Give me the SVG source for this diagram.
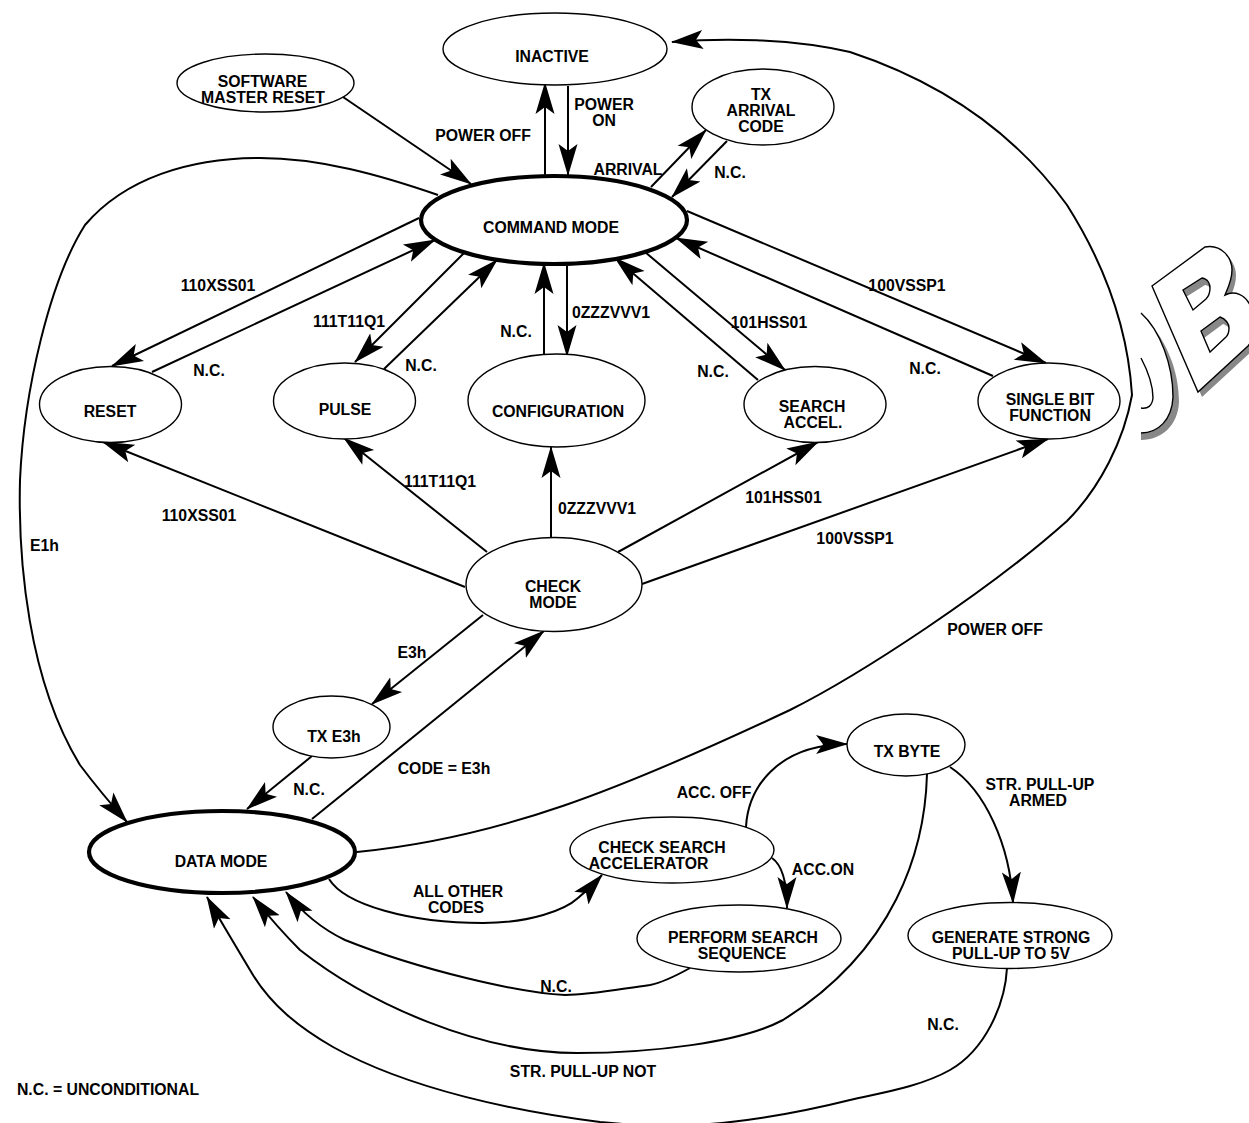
<svg xmlns="http://www.w3.org/2000/svg" width="1249" height="1123" viewBox="0 0 1249 1123">
<style>
text{font-family:"Liberation Sans",Arial,sans-serif;font-weight:bold;font-size:15.8px;fill:#000;text-anchor:middle}
.n{fill:#fff;stroke:#000;stroke-width:1.4}
.m{fill:#fff;stroke:#000;stroke-width:4.2}
#connectors path{fill:none;stroke:#000;stroke-width:2;marker-end:url(#a)}
.wm{fill:none;stroke:#000;stroke-width:1.4}
</style>
<defs>
<marker id="a" markerUnits="userSpaceOnUse" markerWidth="34" markerHeight="22" viewBox="0 0 34 22" refX="31" refY="11" orient="auto">
<path d="M32,11 L0,1.5 L7,11 L0,20.5 Z" fill="#000"/>
</marker>
<path id="bo" d="M1152,286 L1205,247 C1222,244 1232,258 1232,270 C1232,280 1228,288 1225,295 C1235,290 1245,295 1250,305 C1258,320 1255,338 1248,346 L1198,392 Z"/>
<path id="h1" d="M1183,290 L1202,278 C1208,279 1210,284 1210,288 C1210,294 1208,297 1206,299 L1193,310 Z"/>
<path id="h2" d="M1201,331 L1220,317 C1226,319 1229,324 1229,328 C1229,332 1228,335 1226,337 L1210,352 Z"/>
<clipPath id="c1"><use href="#h1"/></clipPath>
<clipPath id="c2"><use href="#h2"/></clipPath>
</defs>
<g id="watermark">
<use href="#bo" fill="#888" transform="translate(4,5)"/>
<use href="#bo" fill="#fff" stroke="#000" stroke-width="1.4"/>
<use href="#h1" fill="#888"/>
<g clip-path="url(#c1)"><use href="#h1" fill="#fff" transform="translate(3,7)"/></g>
<use href="#h1" class="wm"/>
<use href="#h2" fill="#888"/>
<g clip-path="url(#c2)"><use href="#h2" fill="#fff" transform="translate(3,7)"/></g>
<use href="#h2" class="wm"/>
<path d="M1141,313 C1160,330 1173,365 1173,397 C1172,420 1158,433 1141,433 L1141,440 C1162,440 1178,425 1179,402 C1179,370 1166,338 1141,313 Z" fill="#888"/>
<path class="wm" d="M1141,313 C1160,330 1173,365 1173,397 C1172,420 1158,433 1141,433"/>
<path class="wm" d="M1141,358 C1150,375 1153,388 1153,398 C1152,406 1148,409 1141,408"/>
</g>
<g id="connectors">
<path d="M343,97 L471,184"/>
<path d="M545,175 L545,83"/>
<path d="M568,86 L568,175"/>
<path d="M651,187 L706,130"/>
<path d="M727,141 L672,197"/>
<path d="M419,218 L112,366"/>
<path d="M152,372 L435,240"/>
<path d="M464,253 L355,362"/>
<path d="M384,369 L497,260"/>
<path d="M544,354 L544,263"/>
<path d="M567,265 L567,356"/>
<path d="M758,380 L615,258"/>
<path d="M645,252 L785,370"/>
<path d="M993,376 L676,238"/>
<path d="M687,211 L1046,363"/>
<path d="M465,587 L103,442"/>
<path d="M487,552 L344,438"/>
<path d="M551,537 L551,447"/>
<path d="M618,552 L818,442"/>
<path d="M642,584 L1048,439"/>
<path d="M483,615 L372,704"/>
<path d="M312,756 L247,809"/>
<path d="M312,819 L544,631"/>
<path d="M438,195 C380,175 320,158 260,158 C190,158 125,178 85,225 C50,280 24,390 20,480 C18,560 28,680 80,765 C95,785 110,803 127,822"/>
<path d="M357,852 C500,838 620,790 790,710 C860,675 990,590 1067,521 C1100,488 1124,440 1132,395 C1128,330 1105,265 1067,205 C1020,140 950,85 850,52 C790,38 720,38 672,42"/>
<path d="M329,879 C345,905 410,923 483,923 C530,923 565,910 578,898 C585,892 594,884 602,875"/>
<path d="M746,827 C748,790 775,745 847,744"/>
<path d="M772,858 C782,865 787,880 787,908"/>
<path d="M950,767 C985,790 1010,845 1013,903"/>
<path d="M690,968 C672,978 660,983 650,985 C620,989 590,995 565,995 C520,993 420,970 345,940 C320,928 300,910 286,892"/>
<path d="M927,774 C925,850 895,950 783,1020 C740,1043 650,1053 577,1053 C480,1053 370,1005 300,950 C280,930 265,912 253,897"/>
<path d="M1007,968 C1005,1005 985,1050 950,1070 C920,1087 880,1093 850,1100 C790,1115 730,1124 690,1125 C660,1127 630,1125 600,1122 C520,1112 410,1090 333,1047 C300,1028 270,1005 250,970 C235,945 220,920 207,897"/>
</g>
<g id="inactive"><ellipse class="n" cx="555" cy="49" rx="112" ry="36"/><text x="552" y="62">INACTIVE</text></g>
<g id="software"><ellipse class="n" cx="265.5" cy="83" rx="88.5" ry="29"/><text x="262.5" y="87">SOFTWARE</text><text x="263" y="103">MASTER RESET</text></g>
<g id="txarrival"><ellipse class="n" cx="763" cy="107" rx="71" ry="38"/><text x="761" y="100">TX</text><text x="761" y="116">ARRIVAL</text><text x="761" y="132">CODE</text></g>
<g id="command"><ellipse class="m" cx="554" cy="220" rx="133" ry="44"/><text x="551" y="233">COMMAND MODE</text></g>
<g id="reset"><ellipse class="n" cx="110.5" cy="404.5" rx="71" ry="38"/><text x="110" y="417">RESET</text></g>
<g id="pulse"><ellipse class="n" cx="344.5" cy="401" rx="71" ry="38"/><text x="345" y="415">PULSE</text></g>
<g id="configuration"><ellipse class="n" cx="556.5" cy="400.5" rx="88.5" ry="46.5"/><text x="558" y="417">CONFIGURATION</text></g>
<g id="search"><ellipse class="n" cx="815" cy="404.5" rx="71" ry="38"/><text x="812" y="412">SEARCH</text><text x="813" y="428">ACCEL.</text></g>
<g id="single"><ellipse class="n" cx="1049" cy="401" rx="71" ry="38"/><text x="1050" y="405">SINGLE BIT</text><text x="1050" y="421">FUNCTION</text></g>
<g id="check"><ellipse class="n" cx="554" cy="584.5" rx="88" ry="47"/><text x="553" y="592">CHECK</text><text x="553" y="608">MODE</text></g>
<g id="txe3h"><ellipse class="n" cx="331.5" cy="727" rx="58.5" ry="31"/><text x="334" y="742">TX E3h</text></g>
<g id="data"><ellipse class="m" cx="222" cy="852" rx="133" ry="41"/><text x="221" y="867">DATA MODE</text></g>
<g id="txbyte"><ellipse class="n" cx="906" cy="745" rx="59" ry="31"/><text x="907" y="757">TX BYTE</text></g>
<g id="checksearch"><ellipse class="n" cx="672" cy="850" rx="102" ry="33"/><text x="662" y="853">CHECK SEARCH</text><text x="648.5" y="869">ACCELERATOR</text></g>
<g id="perform"><ellipse class="n" cx="739" cy="938.5" rx="102" ry="33.5"/><text x="743" y="943">PERFORM SEARCH</text><text x="742" y="959">SEQUENCE</text></g>
<g id="generate"><ellipse class="n" cx="1010" cy="935.5" rx="102" ry="33"/><text x="1011" y="943">GENERATE STRONG</text><text x="1011" y="959">PULL-UP TO 5V</text></g>
<g id="labels">
<text x="483" y="141">POWER OFF</text>
<text x="604" y="110">POWER</text><text x="604" y="126">ON</text>
<text x="628" y="175">ARRIVAL</text>
<text x="730" y="178">N.C.</text>
<text x="218" y="291">110XSS01</text>
<text x="209" y="376">N.C.</text>
<text x="349" y="327">111T11Q1</text>
<text x="421" y="371">N.C.</text>
<text x="516" y="337">N.C.</text>
<text x="611" y="318">0ZZZVVV1</text>
<text x="769" y="328">101HSS01</text>
<text x="713" y="377">N.C.</text>
<text x="907" y="291">100VSSP1</text>
<text x="925" y="374">N.C.</text>
<text x="199" y="521">110XSS01</text>
<text x="440" y="487">111T11Q1</text>
<text x="597" y="514">0ZZZVVV1</text>
<text x="783.5" y="503">101HSS01</text>
<text x="855" y="544">100VSSP1</text>
<text x="44.5" y="551">E1h</text>
<text x="995" y="635">POWER OFF</text>
<text x="412" y="658">E3h</text>
<text x="444" y="774">CODE = E3h</text>
<text x="309" y="795">N.C.</text>
<text x="714" y="798">ACC. OFF</text>
<text x="1040" y="790">STR. PULL-UP</text><text x="1038" y="806">ARMED</text>
<text x="823" y="875">ACC.ON</text>
<text x="458" y="897">ALL OTHER</text><text x="456" y="913">CODES</text>
<text x="556" y="992">N.C.</text>
<text x="943" y="1030">N.C.</text>
<text x="583" y="1077">STR. PULL-UP NOT</text>
<text x="108" y="1095">N.C. = UNCONDITIONAL</text>
</g>
</svg>
